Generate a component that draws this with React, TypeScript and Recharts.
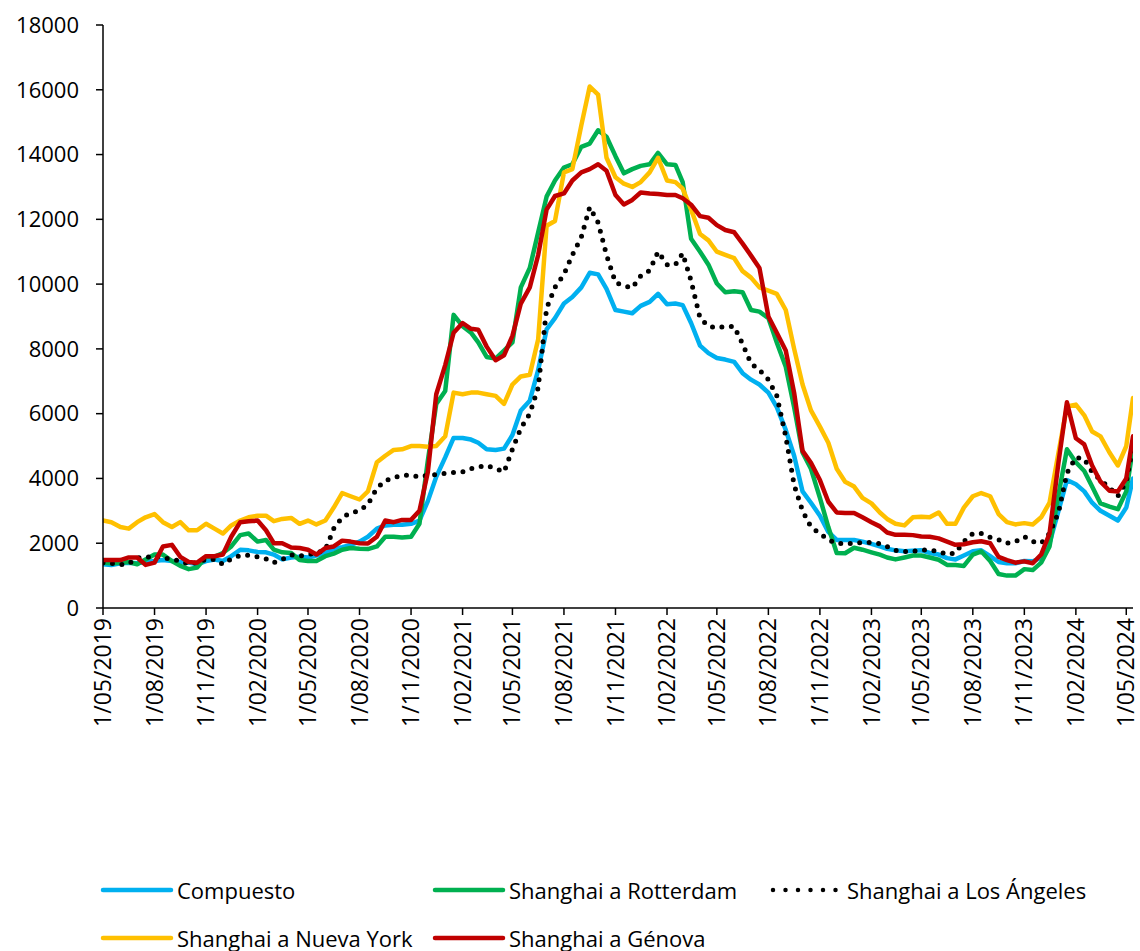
import React from 'react';
import { LineChart, Line, XAxis, YAxis, Legend } from 'recharts';

// Weekly-ish observations, sampled twice a month (1st and 16th)
const dates = [
  '2019-05-01','2019-05-16','2019-06-01','2019-06-16','2019-07-01','2019-07-16','2019-08-01','2019-08-16',
  '2019-09-01','2019-09-16','2019-10-01','2019-10-16','2019-11-01','2019-11-16','2019-12-01','2019-12-16',
  '2020-01-01','2020-01-16','2020-02-01','2020-02-16','2020-03-01','2020-03-16','2020-04-01','2020-04-16',
  '2020-05-01','2020-05-16','2020-06-01','2020-06-16','2020-07-01','2020-07-16','2020-08-01','2020-08-16',
  '2020-09-01','2020-09-16','2020-10-01','2020-10-16','2020-11-01','2020-11-16','2020-12-01','2020-12-16',
  '2021-01-01','2021-01-16','2021-02-01','2021-02-16','2021-03-01','2021-03-16','2021-04-01','2021-04-16',
  '2021-05-01','2021-05-16','2021-06-01','2021-06-16','2021-07-01','2021-07-16','2021-08-01','2021-08-16',
  '2021-09-01','2021-09-16','2021-10-01','2021-10-16','2021-11-01','2021-11-16','2021-12-01','2021-12-16',
  '2022-01-01','2022-01-16','2022-02-01','2022-02-16','2022-03-01','2022-03-16','2022-04-01','2022-04-16',
  '2022-05-01','2022-05-16','2022-06-01','2022-06-16','2022-07-01','2022-07-16','2022-08-01','2022-08-16',
  '2022-09-01','2022-09-16','2022-10-01','2022-10-16','2022-11-01','2022-11-16','2022-12-01','2022-12-16',
  '2023-01-01','2023-01-16','2023-02-01','2023-02-16','2023-03-01','2023-03-16','2023-04-01','2023-04-16',
  '2023-05-01','2023-05-16','2023-06-01','2023-06-16','2023-07-01','2023-07-16','2023-08-01','2023-08-16',
  '2023-09-01','2023-09-16','2023-10-01','2023-10-16','2023-11-01','2023-11-16','2023-12-01','2023-12-16',
  '2024-01-01','2024-01-16','2024-02-01','2024-02-16','2024-03-01','2024-03-16','2024-04-01','2024-04-16',
  '2024-05-01','2024-05-13',
];

const compuesto = [
  1350,1330,1380,1400,1380,1420,1450,1480,1450,1420,1400,1350,
  1450,1500,1450,1600,1800,1780,1730,1720,1650,1500,1560,1580,
  1560,1620,1700,1820,1880,1950,2050,2200,2450,2550,2570,2570,
  2600,2700,3300,4050,4650,5250,5250,5200,5100,4900,4880,4920,
  5340,6100,6400,7350,8600,8950,9400,9600,9900,10350,10300,9850,
  9200,9150,9100,9330,9450,9700,9380,9400,9350,8800,8100,7870,
  7720,7670,7600,7250,7050,6900,6650,6200,5500,4700,3600,3250,
  2850,2350,2100,2100,2100,2050,1980,1900,1830,1780,1750,1770,
  1780,1700,1650,1540,1500,1620,1750,1780,1600,1420,1380,1380,
  1450,1440,1550,2000,3000,3950,3820,3600,3250,3000,2850,2700,
  3100,4000,
];

const rotterdam = [
  1400,1380,1400,1420,1350,1500,1650,1650,1450,1300,1200,1250,
  1580,1580,1700,1900,2250,2300,2050,2100,1800,1720,1700,1480,
  1450,1450,1600,1680,1800,1850,1830,1820,1900,2200,2200,2180,
  2200,2600,4550,6300,6700,9050,8700,8500,8200,7750,7700,7950,
  8200,9900,10500,11600,12700,13200,13600,13700,14240,14340,14750,14550,
  13950,13420,13550,13650,13700,14050,13700,13680,13150,11400,11000,10600,
  10020,9750,9780,9750,9200,9150,8950,8200,7450,6200,4800,4300,
  3400,2500,1700,1690,1860,1800,1720,1650,1560,1500,1560,1620,
  1620,1560,1490,1330,1330,1300,1650,1750,1450,1050,1000,1000,
  1200,1170,1400,1900,3500,4900,4500,4230,3750,3230,3130,3050,
  3600,4950,
];

const losAngeles = [
  1400,1380,1340,1370,1550,1560,1600,1550,1500,1450,1350,1400,
  1500,1500,1350,1520,1620,1630,1580,1520,1400,1500,1640,1600,
  1650,1690,1800,2450,2800,2930,3000,3200,3700,3930,4030,4090,
  4100,4050,4100,4120,4160,4180,4200,4300,4350,4400,4300,4200,
  4900,5550,6000,6800,9250,9900,10300,10900,11450,12380,11900,10900,
  10050,9950,9880,10250,10420,11000,10600,10600,10950,10100,8950,8700,
  8650,8690,8690,8150,7550,7350,7050,6550,5300,3800,3000,2500,
  2300,2100,2000,1990,1990,2030,2020,1990,1900,1780,1740,1750,
  1790,1790,1750,1650,1700,2050,2300,2300,2180,2110,2000,2050,
  2200,2050,2000,2300,2950,4160,4650,4600,4200,3950,3720,3450,
  3900,5000,
];

const nuevaYork = [
  2700,2650,2500,2450,2650,2800,2900,2650,2500,2650,2400,2400,
  2600,2450,2300,2550,2700,2800,2850,2850,2680,2750,2780,2600,
  2700,2580,2700,3100,3550,3450,3350,3600,4500,4700,4880,4900,
  5000,5000,4980,5000,5300,6650,6600,6650,6650,6600,6550,6300,
  6900,7150,7200,8300,11800,11950,13450,13550,14900,16100,15850,13900,
  13300,13100,13000,13150,13450,13900,13200,13150,12950,12300,11550,11350,
  11000,10900,10800,10400,10200,9900,9800,9700,9200,8000,6900,6100,
  5600,5100,4300,3900,3750,3400,3230,2950,2750,2600,2550,2800,
  2820,2800,2950,2600,2600,3100,3450,3550,3450,2900,2650,2580,
  2620,2580,2800,3250,4800,6220,6280,5950,5450,5300,4800,4400,
  5000,6480,
];

const genova = [
  1480,1480,1480,1560,1560,1330,1400,1900,1950,1580,1420,1400,
  1600,1600,1650,2200,2650,2680,2700,2400,2000,2000,1870,1850,
  1800,1650,1850,1900,2080,2050,2000,1990,2200,2700,2650,2720,
  2720,3000,4200,6600,7500,8500,8800,8620,8590,8070,7650,7800,
  8400,9400,9900,10900,12300,12720,12800,13200,13450,13550,13700,13500,
  12750,12460,12600,12830,12800,12780,12750,12750,12650,12450,12100,12050,
  11820,11670,11600,11250,10880,10500,9000,8500,7950,6640,4850,4480,
  3950,3280,2950,2930,2930,2800,2650,2520,2330,2260,2260,2250,
  2210,2200,2150,2050,1950,1970,2030,2060,2000,1580,1480,1400,
  1440,1380,1650,2300,4500,6350,5240,5050,4400,3900,3620,3600,
  4000,5300,
];

const yTicks = [0, 2000, 4000, 6000, 8000, 10000, 12000, 14000, 16000, 18000];

const xTickLabels = [
  '1/05/2019','1/08/2019','1/11/2019','1/02/2020','1/05/2020','1/08/2020','1/11/2020',
  '1/02/2021','1/05/2021','1/08/2021','1/11/2021','1/02/2022','1/05/2022','1/08/2022',
  '1/11/2022','1/02/2023','1/05/2023','1/08/2023','1/11/2023','1/02/2024','1/05/2024',
];

const seriesNames = ['Compuesto', 'Shanghai a Rotterdam', 'Shanghai a Los Ángeles', 'Shanghai a Nueva York', 'Shanghai a Génova'];
const seriesKeys = ['compuesto', 'rotterdam', 'losAngeles', 'nuevaYork', 'genova'];
const seriesColors = ['#00B0F0', '#00B050', '#000000', '#FFC000', '#C00000'];
const seriesValues = [compuesto, rotterdam, losAngeles, nuevaYork, genova];
const seriesDotted = [false, false, true, false, false];

const FONT = '"Open Sans", "Noto Sans", sans-serif';
const FS = 22;

const isoToTs = (s: string) => {
  const [y, m, d] = s.split('-').map(Number);
  return Date.UTC(y, m - 1, d);
};
const labelToTs = (l: string) => {
  const [d, m, y] = l.split('/').map(Number);
  return Date.UTC(y, m - 1, d);
};
const tsToLabel = (t: number) => {
  const dt = new Date(t);
  const mm = String(dt.getUTCMonth() + 1).padStart(2, '0');
  return `${dt.getUTCDate()}/${mm}/${dt.getUTCFullYear()}`;
};

const data = dates.map((d, i) => {
  const row: Record<string, number> = { t: isoToTs(d) };
  seriesKeys.forEach((k, j) => {
    row[k] = seriesValues[j][i];
  });
  return row;
});

const xTicks = xTickLabels.map(labelToTs);
const xDomain = [isoToTs(dates[0]), isoToTs(dates[dates.length - 1])];

const XTick = (props: any) => {
  const { x, y, payload } = props;
  return (
    <g transform={`translate(${x},${y})`}>
      <text
        transform="rotate(-90)"
        textAnchor="end"
        dy="0.35em"
        fontSize={23}
        fill="#000"
        fontFamily={FONT}
      >
        {tsToLabel(payload.value)}
      </text>
    </g>
  );
};

const legendSlots = [
  [100, 890], [432, 890], [770, 890], [100, 938], [432, 938],
];

const LegendContent = () => (
  <div style={{ position: 'relative', width: 1140, height: 91, fontFamily: FONT }}>
    {seriesNames.map((name, i) => {
      const [lx, ly] = legendSlots[i];
      return (
        <div
          key={name}
          style={{
            position: 'absolute',
            left: lx,
            top: ly - 860 - 16,
            height: 32,
            display: 'flex',
            alignItems: 'center',
          }}
        >
          <svg width={74} height={10} style={{ display: 'block' }}>
            <line
              x1={3}
              y1={5}
              x2={71}
              y2={5}
              stroke={seriesColors[i]}
              strokeWidth={4.5}
              strokeLinecap="round"
              strokeDasharray={seriesDotted[i] ? '0 12.5' : undefined}
            />
          </svg>
          <span style={{ fontSize: FS, marginLeft: 3, color: '#000', whiteSpace: 'nowrap', lineHeight: '32px' }}>
            {name}
          </span>
        </div>
      );
    })}
  </div>
);

export default function App() {
  return (
    <div style={{ position: 'absolute', left: 0, top: 0, width: 1140, height: 951, background: '#fff', fontFamily: FONT }}>
      <LineChart
        width={1140}
        height={951}
        data={data}
        margin={{ top: 25, right: 7, left: 0, bottom: 203 }}
      >
        <XAxis
          dataKey="t"
          type="number"
          scale="time"
          domain={xDomain}
          ticks={xTicks}
          interval={0}
          height={140}
          tick={<XTick />}
          tickSize={7}
          tickMargin={3}
          axisLine={{ stroke: '#000', strokeWidth: 1.5 }}
          tickLine={{ stroke: '#000', strokeWidth: 1.5 }}
          allowDataOverflow
        />
        <YAxis
          type="number"
          domain={[0, 18000]}
          ticks={yTicks}
          interval={0}
          width={103}
          tickSize={7}
          tickMargin={17}
          tick={{ fontSize: FS, fill: '#000', fontFamily: FONT }}
          axisLine={{ stroke: '#000', strokeWidth: 1.5 }}
          tickLine={{ stroke: '#000', strokeWidth: 1.5 }}
        />
        {seriesKeys.map((k, i) => (
          <Line
            key={k}
            type="linear"
            dataKey={k}
            name={seriesNames[i]}
            stroke={seriesColors[i]}
            strokeWidth={seriesDotted[i] ? 5 : 4.5}
            strokeDasharray={seriesDotted[i] ? '0 9.5' : undefined}
            strokeLinecap="round"
            strokeLinejoin="round"
            dot={false}
            activeDot={false}
            isAnimationActive={false}
          />
        ))}
        <Legend
          layout="horizontal"
          verticalAlign="middle"
          align="center"
          content={<LegendContent />}
          wrapperStyle={{ left: 0, top: 860, width: 1140, height: 91 }}
        />
      </LineChart>
    </div>
  );
}
